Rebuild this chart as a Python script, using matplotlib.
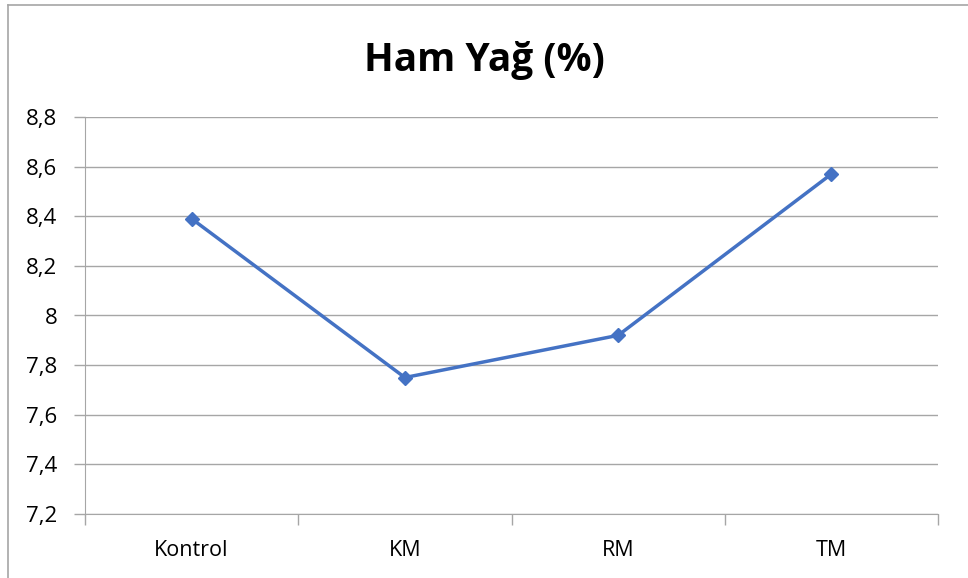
import matplotlib.pyplot as plt
from matplotlib.lines import Line2D
from matplotlib.ticker import FixedLocator, FuncFormatter

# Data
categories = ['Kontrol', 'KM', 'RM', 'TM']
values = [8.39, 7.75, 7.92, 8.57]
yticks = [7.2, 7.4, 7.6, 7.8, 8.0, 8.2, 8.4, 8.6, 8.8]

plt.rcParams['font.family'] = ['Open Sans', 'DejaVu Sans']

grid_col = '#A6A6A6'
line_col = '#4472C4'

fig = plt.figure(figsize=(9.68, 5.78), dpi=100)
ax = fig.add_axes([85 / 968, 1 - 514 / 578, 853 / 968, 397 / 578])

x = list(range(len(categories)))
ax.plot(x, values, color=line_col, linewidth=2.5, marker='D', markersize=7.5,
        markerfacecolor=line_col, markeredgecolor=line_col)

ax.set_xlim(-0.5, len(categories) - 0.5)
ax.set_ylim(7.2, 8.8)
ax.set_yticks(yticks)
ax.yaxis.set_major_formatter(FuncFormatter(
    lambda v, p: ('%g' % round(v, 1)).replace('.', ',')))
ax.set_xticks(x)
ax.set_xticklabels(categories)
ax.xaxis.set_minor_locator(FixedLocator([i - 0.5 for i in range(len(categories) + 1)]))

ax.tick_params(axis='x', which='major', length=0, pad=19, labelsize=15.5, labelcolor='#000000')
ax.tick_params(axis='x', which='minor', length=8, width=1, color=grid_col, direction='out')
ax.tick_params(axis='y', length=8, width=1, color=grid_col, pad=12, labelsize=16, labelcolor='#000000')

ax.grid(axis='y', color=grid_col, linewidth=1)
ax.set_axisbelow(True)
for side in ['top', 'right']:
    ax.spines[side].set_visible(False)
ax.spines['left'].set_color(grid_col)
ax.spines['bottom'].set_color(grid_col)

fig.text(0.5, 1 - 60 / 578, 'Ham Yağ (%)', ha='center', va='center',
         fontsize=28, fontweight='bold')

# chart frame (only left and top edge visible)
fig.add_artist(Line2D([8 / 968, 8 / 968], [0, 1 - 5 / 578], color=grid_col, linewidth=1.2,
                      transform=fig.transFigure))
fig.add_artist(Line2D([8 / 968, 1], [1 - 5 / 578, 1 - 5 / 578], color=grid_col, linewidth=1.2,
                      transform=fig.transFigure))

fig.savefig('out.png', dpi=100)
